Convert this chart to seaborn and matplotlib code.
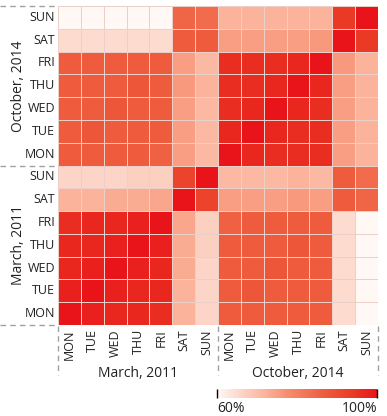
import numpy as np
import pandas as pd
import matplotlib
matplotlib.use("Agg")
import matplotlib.pyplot as plt
import seaborn as sns
from matplotlib.colors import LinearSegmentedColormap

# labels
days = ["MON", "TUE", "WED", "THU", "FRI", "SAT", "SUN"]
periods = ["March, 2011", "October, 2014"]

# similarity inside March 2011 (rows/cols MON..SUN)
mar_2011 = np.array([
    [1.00, 0.98, 0.97, 0.97, 0.96, 0.72, 0.66],
    [0.98, 1.00, 0.98, 0.97, 0.97, 0.72, 0.66],
    [0.97, 0.98, 1.00, 0.98, 0.97, 0.73, 0.66],
    [0.97, 0.97, 0.98, 1.00, 0.98, 0.73, 0.67],
    [0.96, 0.97, 0.97, 0.98, 1.00, 0.74, 0.67],
    [0.72, 0.72, 0.73, 0.73, 0.74, 1.00, 0.92],
    [0.66, 0.66, 0.66, 0.67, 0.67, 0.92, 1.00],
])

# similarity inside October 2014
oct_2014 = np.array([
    [1.00, 0.97, 0.96, 0.96, 0.96, 0.75, 0.72],
    [0.97, 1.00, 0.97, 0.96, 0.96, 0.75, 0.72],
    [0.96, 0.97, 1.00, 0.97, 0.96, 0.75, 0.72],
    [0.96, 0.96, 0.97, 1.00, 0.97, 0.75, 0.72],
    [0.96, 0.96, 0.96, 0.97, 1.00, 0.76, 0.72],
    [0.75, 0.75, 0.75, 0.75, 0.76, 1.00, 0.94],
    [0.72, 0.72, 0.72, 0.72, 0.72, 0.94, 1.00],
])

# March 2011 rows vs October 2014 columns
mar_vs_oct = np.array([
    [0.87, 0.87, 0.87, 0.87, 0.87, 0.65, 0.60],
    [0.87, 0.88, 0.87, 0.87, 0.87, 0.65, 0.60],
    [0.87, 0.87, 0.88, 0.87, 0.87, 0.65, 0.60],
    [0.87, 0.87, 0.87, 0.88, 0.87, 0.65, 0.60],
    [0.86, 0.87, 0.87, 0.87, 0.87, 0.65, 0.60],
    [0.75, 0.75, 0.75, 0.76, 0.75, 0.87, 0.85],
    [0.71, 0.71, 0.71, 0.72, 0.71, 0.87, 0.84],
])

full = np.block([[mar_2011, mar_vs_oct], [mar_vs_oct.T, oct_2014]])
labels = days + days
# rows drawn bottom-up: March MON at the bottom
df = pd.DataFrame(full[::-1], index=labels[::-1], columns=labels)

cmap = LinearSegmentedColormap.from_list("wred", [
    (0.00, "#fff8f5"), (0.12, "#fddcd1"), (0.30, "#fbb39b"),
    (0.45, "#f78a6c"), (0.68, "#ef5a3c"), (0.85, "#ea3a25"), (1.00, "#e8141a")])

plt.rcParams['font.family'] = ['Open Sans', 'DejaVu Sans']
txt = "#222222"

fig = plt.figure(figsize=(3.87, 4.16), dpi=100)
ax = fig.add_axes([58 / 387, 1 - 325 / 416, 320 / 387, 319 / 416])
cax = fig.add_axes([217 / 387, 1 - 398 / 416, 160 / 387, 9 / 416])

sns.heatmap(df, ax=ax, cmap=cmap, vmin=0.6, vmax=1.0,
            linewidths=0.6, linecolor="#ecd0c8",
            cbar_ax=cax, cbar_kws={"orientation": "horizontal", "ticks": [0.6, 1.0]})

ax.tick_params(length=0)
ax.tick_params(axis="x", pad=3)
ax.tick_params(axis="y", pad=2)
ax.set_xticklabels(labels, rotation=90, fontsize=9, color=txt)
ax.set_yticklabels(labels[::-1], rotation=0, fontsize=9, color=txt)
ax.set_xlabel("")
ax.set_ylabel("")

# separators
dash = dict(color="#a0a0a0", lw=1, ls=(0, (4, 3)), clip_on=False)
for y in [0, 7, 14]:
    ax.plot([-2.55, -0.05], [y, y], **dash)
for x in [0, 7, 14]:
    ax.plot([x, x], [14.05, 16.2], **dash)

# group labels
ax.text(-1.75, 3.5, periods[1], rotation=90, ha="center", va="center", fontsize=10, color=txt)
ax.text(-1.75, 10.5, periods[0], rotation=90, ha="center", va="center", fontsize=10, color=txt)
ax.text(3.5, 16.15, periods[0], ha="center", va="center", fontsize=10, color=txt)
ax.text(10.5, 16.15, periods[1], ha="center", va="center", fontsize=10, color=txt)

# colorbar
cbar = ax.collections[0].colorbar
cbar.outline.set_visible(False)
cax.set_xticklabels(["60%", "100%"])
cax.tick_params(axis="x", direction="in", length=6.5, width=1, color="black",
                labelsize=10, labelcolor=txt, pad=2)
for lbl, ha in zip(cax.get_xticklabels(), ["left", "right"]):
    lbl.set_ha(ha)

fig.savefig("out.png", dpi=100)
